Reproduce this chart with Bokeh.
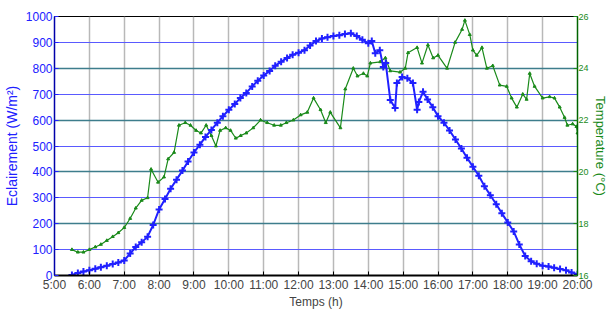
from bokeh.plotting import figure
from bokeh.models import Range1d, LinearAxis, FixedTicker, Grid, ColumnDataSource
from bokeh.embed import file_html
from bokeh.resources import INLINE

# Irradiance (W/m²) vs time (decimal hours)
irr_t = [5.5, 5.67, 5.83, 6.0, 6.17, 6.33, 6.5, 6.67, 6.83, 7.0, 7.17, 7.33, 7.5, 7.67, 7.83,
         8.0, 8.17, 8.33, 8.5, 8.67, 8.83, 9.0, 9.17, 9.33, 9.5, 9.67, 9.83, 10.0, 10.17, 10.33,
         10.5, 10.67, 10.83, 11.0, 11.17, 11.33, 11.5, 11.67, 11.83, 12.0, 12.17, 12.33, 12.5,
         12.67, 12.83, 13.0, 13.17, 13.33, 13.5, 13.67, 13.83, 14.0, 14.1, 14.2, 14.33, 14.43,
         14.5, 14.63, 14.77, 14.82, 14.97, 15.12, 15.28, 15.4, 15.45, 15.57, 15.7, 15.85, 16.0,
         16.17, 16.33, 16.5, 16.67, 16.83, 17.0, 17.17, 17.33, 17.5, 17.67, 17.83, 18.0, 18.17,
         18.33, 18.5, 18.67, 18.83, 19.0, 19.17, 19.33, 19.5, 19.67, 19.83, 20.0]
irr_v = [2, 10, 15, 20, 26, 32, 38, 44, 50, 58, 85, 110, 128, 150, 195,
         255, 295, 335, 370, 405, 440, 475, 505, 535, 562, 590, 615, 640, 662, 685,
         705, 730, 752, 772, 790, 810, 825, 840, 852, 860, 870, 888, 905,
         915, 920, 925, 928, 932, 935, 925, 910, 897, 905, 858, 870, 805,
         820, 678, 647, 743, 766, 762, 743, 640, 670, 709, 680, 650, 615,
         590, 560, 525, 490, 455, 420, 385, 345, 310, 275, 240, 205, 170,
         120, 75, 55, 45, 38, 35, 30, 25, 20, 12, 5]

# Temperature (°C) vs time (decimal hours)
tmp_t = [5.5, 5.67, 5.83, 6.0, 6.17, 6.33, 6.5, 6.67, 6.83, 7.0, 7.17, 7.33, 7.5, 7.67, 7.77,
         7.97, 8.14, 8.26, 8.43, 8.57, 8.75, 8.9, 9.06, 9.2, 9.35, 9.5, 9.63, 9.75, 9.91, 10.05,
         10.2, 10.34, 10.5, 10.7, 10.91, 11.1, 11.3, 11.49, 11.65, 11.85, 12.06, 12.25, 12.43,
         12.63, 12.78, 12.91, 13.2, 13.34, 13.57, 13.69, 13.86, 13.97, 14.06, 14.34, 14.49,
         14.63, 14.91, 15.06, 15.14, 15.4, 15.54, 15.71, 15.86, 16.0, 16.26, 16.49, 16.69,
         16.77, 16.91, 17.0, 17.11, 17.26, 17.4, 17.57, 17.77, 17.97, 18.11, 18.26, 18.43,
         18.54, 18.63, 18.77, 19.0, 19.2, 19.34, 19.49, 19.63, 19.71, 19.86, 19.97, 20.0]
tmp_v = [17.0, 16.9, 16.9, 17.0, 17.1, 17.2, 17.35, 17.5, 17.65, 17.85, 18.2, 18.6, 18.9, 19.0, 20.1,
         19.6, 19.8, 20.5, 20.75, 21.8, 21.9, 21.8, 21.6, 21.5, 21.8, 21.4, 21.0, 21.6, 21.7, 21.6,
         21.3, 21.4, 21.5, 21.7, 22.0, 21.9, 21.8, 21.8, 21.9, 22.0, 22.2, 22.3, 22.85,
         22.4, 21.9, 22.3, 21.7, 23.2, 24.0, 23.7, 23.8, 23.7, 24.2, 24.25, 24.4,
         23.9, 23.85, 24.0, 24.6, 24.8, 24.2, 24.9, 24.4, 24.5, 24.0, 25.0, 25.5,
         25.85, 25.3, 24.7, 24.5, 24.8, 24.0, 24.1, 23.35, 23.3, 22.85, 22.5, 23.0,
         22.8, 23.8, 23.3, 22.85, 22.9, 22.85, 22.5, 22.1, 21.8, 21.85, 21.75, 21.5]

hour_ticks = [5, 6, 7, 8, 9, 10, 11, 12, 13, 14, 15, 16, 17, 18, 19, 20]
hour_labels = ["5:00", "6:00", "7:00", "8:00", "9:00", "10:00", "11:00", "12:00", "13:00",
               "14:00", "15:00", "16:00", "17:00", "18:00", "19:00", "20:00"]
irr_ticks = [0, 100, 200, 300, 400, 500, 600, 700, 800, 900, 1000]
tmp_ticks = [16, 18, 20, 22, 24, 26]

BLUE = "#2020ff"
GREEN = "#1a8a1a"
FONT = "Liberation Sans"

p = figure(width=610, height=311, output_backend="svg", toolbar_location=None,
           x_range=Range1d(5, 20), y_range=Range1d(0, 1000),
           min_border_left=53, min_border_right=32, min_border_top=16, min_border_bottom=34)
p.extra_y_ranges = {"temp": Range1d(16, 26)}
p.background_fill_color = "white"
p.outline_line_color = "black"
p.outline_line_width = 1

# grids
p.xgrid.ticker = FixedTicker(ticks=hour_ticks)
p.xgrid.grid_line_color = "#b8b8b8"
p.xgrid.grid_line_width = 1.5
p.ygrid.ticker = FixedTicker(ticks=irr_ticks)
p.ygrid.grid_line_color = "#5a5aff"
p.ygrid.grid_line_width = 1
teal = Grid(dimension=1, ticker=FixedTicker(ticks=[200, 400, 600, 800]),
            grid_line_color="#3d7d8c", grid_line_width=1.5)
p.add_layout(teal)

# x axis
xa = p.xaxis[0]
xa.ticker = FixedTicker(ticks=hour_ticks)
xa.major_label_overrides = dict(zip(hour_ticks, hour_labels))
xa.axis_label = "Temps (h)"
xa.axis_label_text_font = FONT
xa.axis_label_text_font_style = "normal"
xa.axis_label_text_font_size = "12px"
xa.axis_label_standoff = 0
xa.major_label_text_font = FONT
xa.major_label_text_font_size = "12px"
xa.major_label_standoff = 2
xa.major_tick_in = 4
xa.major_tick_out = 0
xa.minor_tick_line_color = None
xa.axis_line_color = "black"
xa.axis_line_width = 2

# left axis
ya = p.yaxis[0]
ya.ticker = FixedTicker(ticks=irr_ticks)
ya.axis_label = "Eclairement (W/m²)"
ya.axis_label_text_color = BLUE
ya.axis_label_text_font = FONT
ya.axis_label_text_font_style = "normal"
ya.axis_label_text_font_size = "14px"
ya.axis_label_standoff = 3
ya.major_label_text_color = BLUE
ya.major_label_text_font = FONT
ya.major_label_text_font_size = "12px"
ya.major_label_standoff = 2
ya.major_tick_in = 4
ya.major_tick_out = 0
ya.major_tick_line_color = BLUE
ya.minor_tick_line_color = None
ya.axis_line_color = "#0000aa"
ya.axis_line_width = 1.5

# right axis
ra = LinearAxis(y_range_name="temp", ticker=FixedTicker(ticks=tmp_ticks))
ra.axis_label = "Temperature (°C)"
ra.axis_label_text_color = GREEN
ra.axis_label_text_font = FONT
ra.axis_label_text_font_style = "normal"
ra.axis_label_text_font_size = "13px"
ra.axis_label_standoff = 1
ra.major_label_text_color = GREEN
ra.major_label_text_font = FONT
ra.major_label_text_font_size = "9px"
ra.major_label_standoff = 1
ra.major_tick_in = 4
ra.major_tick_out = 0
ra.major_tick_line_color = GREEN
ra.minor_tick_line_color = None
ra.axis_line_color = "#006400"
ra.axis_line_width = 1.5
p.add_layout(ra, "right")

# data
src_i = ColumnDataSource(dict(t=irr_t, v=irr_v))
src_t = ColumnDataSource(dict(t=tmp_t, v=tmp_v))

p.line("t", "v", source=src_t, y_range_name="temp", color=GREEN, line_width=1.2)
p.scatter("t", "v", source=src_t, y_range_name="temp", marker="triangle", size=3,
          color=GREEN)
p.line("t", "v", source=src_i, color=BLUE, line_width=2)
p.scatter("t", "v", source=src_i, marker="cross", size=7, line_width=2, color=BLUE)

open("out.html", "w").write(file_html(p, INLINE))
